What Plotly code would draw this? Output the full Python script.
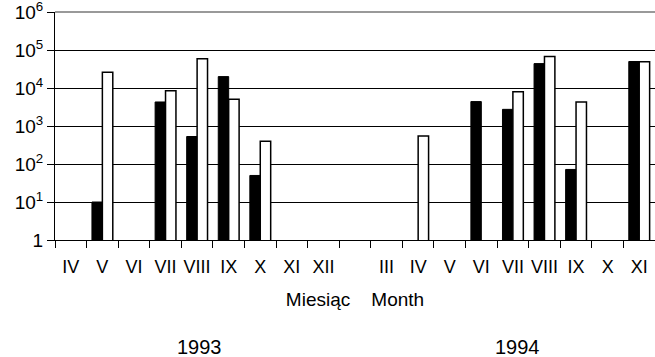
import plotly.graph_objects as go

# Data
months = ["IV", "V", "VI", "VII", "VIII", "IX", "X", "XI", "XII", "",
          "III", "IV", "V", "VI", "VII", "VIII", "IX", "X", "XI"]
years = ["1993"] * 9 + ["-"] + ["1994"] * 9
black_series = [None, 10, None, 4300, 530, 20000, 50, None, None, None,
                None, None, None, 4400, 2750, 44000, 72, None, 50000]
white_series = [None, 26000, None, 8500, 59000, 5100, 400, None, None, None,
                None, 550, None, None, 8000, 68000, 4300, None, 49000]
y_tickvals = [1, 10, 100, 1000, 10000, 100000, 1000000]
y_ticktext = ["1", "10<sup>1</sup>", "10<sup>2</sup>", "10<sup>3</sup>",
              "10<sup>4</sup>", "10<sup>5</sup>", "10<sup>6</sup>"]
x_title = "Miesiąc    Month"
year_labels = ["1993", "1994"]

cats = [f"{y}-{m}-{i}" for i, (y, m) in enumerate(zip(years, months))]

FONT = "Liberation Sans, Arial, sans-serif"
NARROW = "Liberation Sans Narrow, Arial Narrow, Liberation Sans, Arial, sans-serif"

fig = go.Figure()
fig.add_trace(go.Bar(x=cats, y=black_series, marker=dict(color="black", line=dict(color="black", width=1)),
                     showlegend=False))
fig.add_trace(go.Bar(x=cats, y=white_series, marker=dict(color="white", line=dict(color="black", width=1.5)),
                     showlegend=False))

fig.update_layout(
    width=655, height=357,
    margin=dict(l=55, r=0, t=12, b=117),
    paper_bgcolor="white", plot_bgcolor="white",
    barmode="group", bargap=0.34, bargroupgap=0,
    font=dict(family=FONT, size=19, color="black"),
    xaxis=dict(type="category", categoryorder="array", categoryarray=cats,
               tickvals=cats, ticktext=months, tickson="boundaries",
               ticks="outside", ticklen=7, tickcolor="black", tickwidth=1,
               showline=True, linecolor="black", linewidth=1,
               showgrid=False, range=[-0.5, 18.5], tickangle=0,
               tickfont=dict(size=18, family=NARROW),
               ticklabelstandoff=10,
               title=dict(text=x_title, font=dict(size=19), standoff=17)),
    yaxis=dict(type="log", range=[0, 6.002], tickvals=y_tickvals, ticktext=y_ticktext,
               ticks="outside", ticklen=7, tickcolor="black",
               ticklabeloverflow="allow",
               showline=True, linecolor="black", linewidth=1,
               showgrid=True, gridcolor="black", gridwidth=1,
               zeroline=False, tickfont=dict(size=19)),
)

# grey top border at 10^6
fig.add_shape(type="line", xref="paper", yref="paper", x0=0, x1=1, y0=1, y1=1,
              line=dict(color="#999999", width=2))

for label, xp in zip(year_labels, [0.24, 0.771]):
    fig.add_annotation(text=label, xref="paper", yref="paper", x=xp, y=-0.47,
                       showarrow=False, xanchor="center", yanchor="middle",
                       font=dict(size=20))

fig.write_html("out.html", config={"displayModeBar": False},
               post_script="document.body.style.margin='0';document.body.style.overflow='hidden';")
